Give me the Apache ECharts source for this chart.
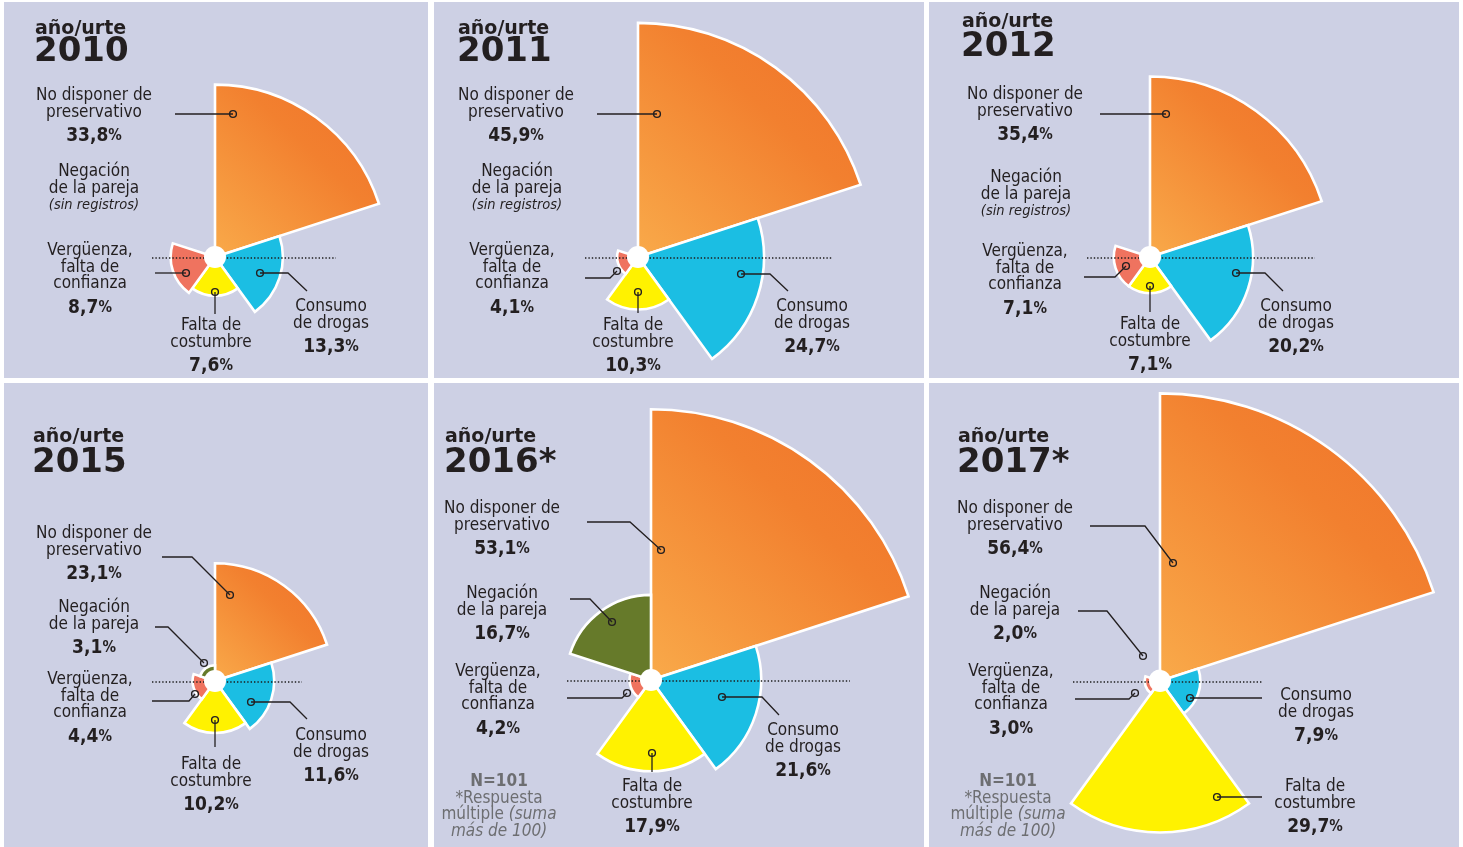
<!DOCTYPE html>
<html>
<head>
<meta charset="utf-8">
<script src="https://cdn.jsdelivr.net/npm/echarts@6/dist/echarts.min.js"></script>
<style>
  html, body { margin: 0; padding: 0; background: #fff; }
  #main { width: 1463px; height: 847px; }
</style>
</head>
<body>
<div id="main"></div>
<script>
// datos: motivos para no usar preservativo (%), por año
var years = ['2010', '2011', '2012', '2015', '2016*', '2017*'];
var categories = ['No disponer de preservativo', 'Consumo de drogas', 'Falta de costumbre', 'Vergüenza, falta de confianza', 'Negación de la pareja'];
var noPreservativo = [33.8, 45.9, 35.4, 23.1, 53.1, 56.4];
var consumoDrogas = [13.3, 24.7, 20.2, 11.6, 21.6, 7.9];
var faltaCostumbre = [7.6, 10.3, 7.1, 10.2, 17.9, 29.7];
var verguenza = [8.7, 4.1, 7.1, 4.4, 4.2, 3.0];
var negacionPareja = [null, null, null, 3.1, 16.7, 2.0]; // sin registros hasta 2015
var labelLines = [
    ['No disponer de', 'preservativo'],
    ['Consumo', 'de drogas'],
    ['Falta de', 'costumbre'],
    ['Vergüenza,', 'falta de', 'confianza'],
    ['Negación', 'de la pareja']
];
var noteLines = ['N=101', '*Respuesta', 'múltiple ', 'más de 100)'];

var PX_PER_PCT = 5.1;   // escala radial común a todos los paneles
var RADIUS_MAX = 60;

var BG = '#cdd0e4';
var INK = '#231f20';
var LABEL_FONT = '"DejaVu Sans Condensed", "DejaVu Sans", sans-serif';
var TITLE_FONT = '"DejaVu Sans", sans-serif';

var orangeGrad = new echarts.graphic.LinearGradient(0, 1, 1, 0, [
    {offset: 0, color: '#f9aa4a'},
    {offset: 0.6, color: '#f2802f'},
    {offset: 1, color: '#f07229'}
]);
var sectorColors = [orangeGrad, '#1bbee3', '#fff200', '#ef735f', '#667a2a'];

// maquetación de cada panel: fondo, centro, título, línea punteada, etiquetas
// leader: puntos relativos al centro, el primero es el punto dentro del sector
var panels = [
    {bg: [4, 2, 424, 376], c: [215, 257], title: [35, 29, 52], dots: [152, 336], note: null,
     labels: [
        {x: 94, y: 96, leader: [[18, -143], [-40, -143]]},
        {x: 331, y: 307, leader: [[45, 16], [73, 16], [92, 34]]},
        {x: 211, y: 326, leader: [[0, 35], [0, 57]]},
        {x: 90, y: 251, leader: [[-29, 16], [-60, 16]]},
        {x: 94, y: 172, leader: null}
     ]},
    {bg: [434, 2, 490, 376], c: [638, 257], title: [458, 29, 52], dots: [585, 833], note: null,
     labels: [
        {x: 516, y: 96, leader: [[19, -143], [-41, -143]]},
        {x: 812, y: 307, leader: [[103, 17], [132, 17], [150, 34]]},
        {x: 633, y: 326, leader: [[0, 35], [0, 56]]},
        {x: 512, y: 251, leader: [[-21, 14], [-28, 21], [-53, 21]]},
        {x: 517, y: 172, leader: null}
     ]},
    {bg: [929, 2, 530, 376], c: [1150, 257], title: [962, 22, 47], dots: [1087, 1315], note: null,
     labels: [
        {x: 1025, y: 95, leader: [[16, -143], [-50, -143]]},
        {x: 1296, y: 307, leader: [[86, 16], [115, 16], [133, 34]]},
        {x: 1150, y: 325, leader: [[0, 29], [0, 55]]},
        {x: 1025, y: 252, leader: [[-24, 9], [-35, 20], [-66, 20]]},
        {x: 1026, y: 178, leader: null}
     ]},
    {bg: [4, 383, 424, 464], c: [215, 681], title: [33, 437, 463], dots: [152, 302], note: null,
     labels: [
        {x: 94, y: 534, leader: [[15, -86], [-23, -124], [-53, -124]]},
        {x: 331, y: 736, leader: [[36, 21], [75, 21], [92, 38]]},
        {x: 211, y: 765, leader: [[0, 39], [0, 66]]},
        {x: 90, y: 680, leader: [[-20, 13], [-26, 20], [-63, 20]]},
        {x: 94, y: 608, leader: [[-11, -18], [-47, -54], [-60, -54]]}
     ]},
    {bg: [434, 383, 490, 464], c: [651, 680], title: [445, 437, 463], dots: [567, 850], note: [499, 782],
     labels: [
        {x: 502, y: 509, leader: [[10, -130], [-21, -158], [-64, -158]]},
        {x: 803, y: 731, leader: [[71, 17], [111, 17], [128, 35]]},
        {x: 652, y: 787, leader: [[1, 73], [1, 92]]},
        {x: 498, y: 672, leader: [[-24, 13], [-29, 18], [-84, 18]]},
        {x: 502, y: 594, leader: [[-39, -58], [-61, -81], [-81, -81]]}
     ]},
    {bg: [929, 383, 530, 464], c: [1160, 681], title: [958, 437, 463], dots: [1073, 1262], note: [1008, 782],
     labels: [
        {x: 1015, y: 509, leader: [[13, -118], [-15, -155], [-70, -155]]},
        {x: 1316, y: 696, leader: [[30, 17], [102, 17]]},
        {x: 1315, y: 787, leader: [[57, 116], [102, 116]]},
        {x: 1011, y: 672, leader: [[-25, 12], [-31, 18], [-85, 18]]},
        {x: 1015, y: 594, leader: [[-17, -25], [-53, -70], [-82, -70]]}
     ]}
];

function fmt(v) {
    return v.toFixed(1).replace('.', ',');
}

function valuesOf(i) {
    return [noPreservativo[i], consumoDrogas[i], faltaCostumbre[i], verguenza[i], negacionPareja[i]];
}

function textEl(x, y, text, font, extra) {
    var style = {
        x: x, y: y, text: text, font: font, fill: INK,
        textAlign: 'center', textVerticalAlign: 'middle'
    };
    if (extra) {
        for (var k in extra) style[k] = extra[k];
    }
    return {type: 'text', z: 100, silent: true, style: style};
}

var chart = echarts.init(document.getElementById('main'), null, {renderer: 'canvas'});

var polar = [], angleAxis = [], radiusAxis = [], series = [], graphics = [];
var LINE = 16.5;

panels.forEach(function (p, i) {
    var vals = valuesOf(i);

    polar.push({center: [p.c[0], p.c[1]], radius: RADIUS_MAX * PX_PER_PCT});
    angleAxis.push({
        polarIndex: i, type: 'category', data: categories,
        startAngle: 90, clockwise: true, show: false
    });
    radiusAxis.push({polarIndex: i, type: 'value', min: 0, max: RADIUS_MAX, show: false});
    series.push({
        type: 'bar', coordinateSystem: 'polar', polarIndex: i,
        barCategoryGap: '0%', silent: true, animation: false,
        itemStyle: {borderColor: '#fff', borderWidth: 2.6},
        data: vals.map(function (v, k) {
            return v == null ? '-' : {value: v, itemStyle: {color: sectorColors[k]}};
        })
    });

    // fondo del panel
    graphics.push({
        type: 'rect', z: 0, silent: true,
        shape: {x: p.bg[0], y: p.bg[1], width: p.bg[2], height: p.bg[3]},
        style: {fill: BG}
    });

    // título
    graphics.push(textEl(p.title[0], p.title[1], 'año/urte', 'bold 19px ' + TITLE_FONT, {textAlign: 'left'}));
    graphics.push(textEl(p.title[0] - 1, p.title[2], years[i], 'bold 34px ' + TITLE_FONT, {textAlign: 'left'}));

    // línea punteada horizontal
    graphics.push({
        type: 'line', z: 90, silent: true,
        shape: {x1: p.dots[0], y1: p.c[1] + 1, x2: p.dots[1], y2: p.c[1] + 1},
        style: {stroke: '#1e1e1e', lineWidth: 1.4, lineDash: [1.4, 2]}
    });

    // etiquetas
    p.labels.forEach(function (lab, k) {
        var lines = labelLines[k];
        lines.forEach(function (t, j) {
            graphics.push(textEl(lab.x, lab.y + j * LINE, t, '17px ' + LABEL_FONT));
        });
        var lastY = lab.y + (lines.length - 1) * LINE;
        if (vals[k] == null) {
            graphics.push(textEl(lab.x, lastY + LINE + 0.5, '(sin registros)', 'italic 14.5px ' + LABEL_FONT));
        } else {
            graphics.push(textEl(lab.x, lastY + 24, '{b|' + fmt(vals[k]) + '}{p|%}', '', {
                rich: {
                    b: {font: 'bold 19px ' + LABEL_FONT, fill: INK},
                    p: {font: 'bold 15px ' + LABEL_FONT, fill: INK}
                }
            }));
        }
        if (lab.leader) {
            var pts = lab.leader.map(function (d) { return [p.c[0] + d[0], p.c[1] + d[1]]; });
            graphics.push({
                type: 'polyline', z: 95, silent: true,
                shape: {points: pts},
                style: {stroke: INK, lineWidth: 1.3, fill: null}
            });
            graphics.push({
                type: 'circle', z: 96, silent: true,
                shape: {cx: pts[0][0], cy: pts[0][1], r: 3.4},
                style: {stroke: INK, lineWidth: 1.4, fill: 'none'}
            });
        }
    });

    // círculo blanco central
    graphics.push({
        type: 'circle', z: 92, silent: true,
        shape: {cx: p.c[0], cy: p.c[1], r: 11},
        style: {fill: '#fff'}
    });

    // nota N=101
    if (p.note) {
        var nx = p.note[0], ny = p.note[1];
        var grey = '#6d6e71';
        graphics.push(textEl(nx, ny, noteLines[0], 'bold 17px ' + LABEL_FONT, {fill: grey}));
        graphics.push(textEl(nx, ny + LINE, noteLines[1], '17px ' + LABEL_FONT, {fill: grey}));
        graphics.push(textEl(nx, ny + 2 * LINE, '{n|' + noteLines[2] + '}{i|(suma}', '', {
            rich: {
                n: {font: '17px ' + LABEL_FONT, fill: grey},
                i: {font: 'italic 17px ' + LABEL_FONT, fill: grey}
            }
        }));
        graphics.push(textEl(nx, ny + 3 * LINE, noteLines[3], 'italic 17px ' + LABEL_FONT, {fill: grey}));
    }
});

chart.setOption({
    backgroundColor: '#fff',
    animation: false,
    polar: polar,
    angleAxis: angleAxis,
    radiusAxis: radiusAxis,
    series: series,
    graphic: {elements: graphics}
});
</script>
</body>
</html>
